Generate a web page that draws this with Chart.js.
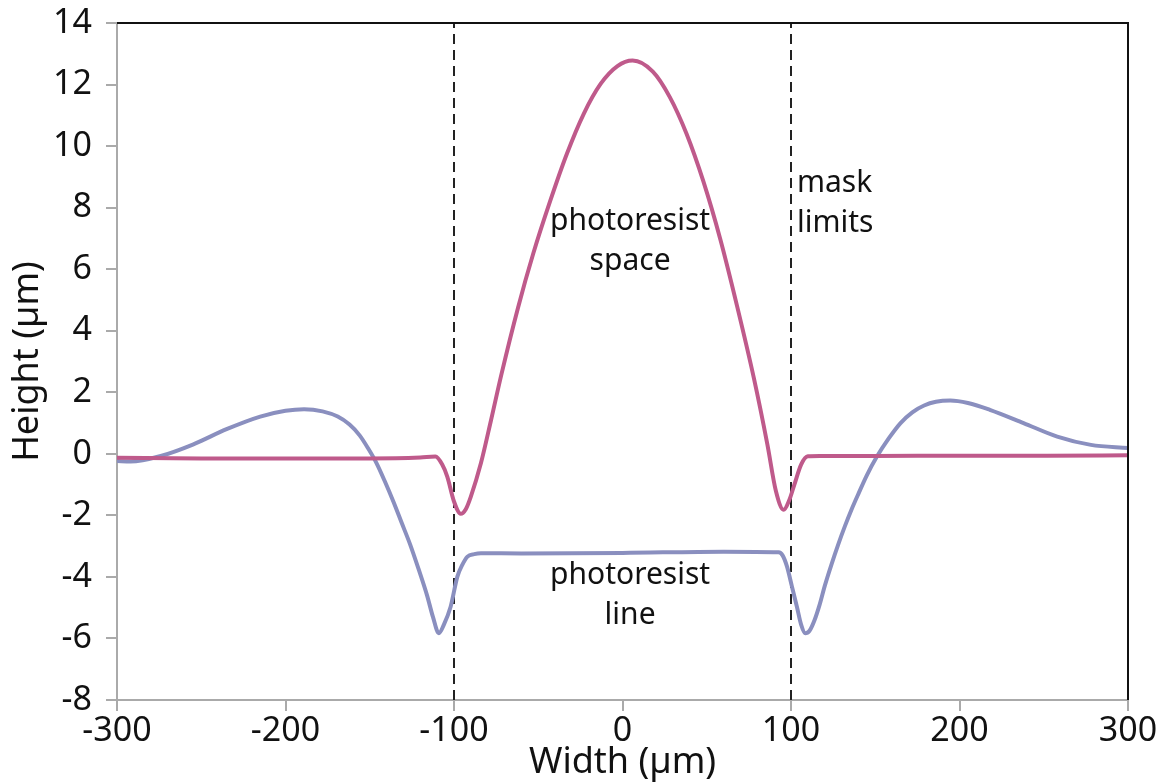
<!DOCTYPE html>
<html>
<head>
<meta charset="utf-8">
<script src="https://cdn.jsdelivr.net/npm/chart.js@4"></script>
<style>
  html, body { margin: 0; padding: 0; background: #fff; }
  #wrap { width: 1170px; height: 784px; }
</style>
</head>
<body>
<div id="wrap"><canvas id="profile"></canvas></div>
<script>
// Profil "photoresist space" (rose)
const spaceX = [-300, -250, -200, -150, -120, -111, -107, -104, -100, -96, -93, -90, -84, -78, -72, -62, -53, -43, -33, -23, -13, -3, 6, 18, 28, 38, 48, 58, 68, 78, 86, 91, 95.6, 99, 102, 106, 110, 117, 150, 200, 250, 300];
const spaceY = [-0.13, -0.15, -0.15, -0.15, -0.12, -0.09, -0.35, -0.74, -1.55, -1.95, -1.8, -1.39, -0.3, 1.1, 2.55, 4.75, 6.5, 8.2, 9.75, 11.05, 12.02, 12.6, 12.78, 12.42, 11.6, 10.4, 8.85, 6.98, 4.8, 2.45, 0.3, -1.2, -1.82, -1.5, -1.0, -0.35, -0.08, -0.07, -0.07, -0.06, -0.06, -0.05];

// Profil "photoresist line" (bleu)
const lineX = [-300, -292, -274, -255, -235, -215, -200, -189, -178, -169, -162, -156, -151, -146, -141, -136, -131, -126, -121, -116, -112.5, -109, -106, -102, -98, -95, -92, -88, -84, -60, 0, 60, 92.6, 95, 97.6, 100.5, 103.5, 106, 108.5, 111, 114, 117, 120, 124, 128, 132, 136, 140, 145, 151, 158, 165, 172, 179, 186, 194.5, 205, 218, 238, 258, 278, 300];
const lineY = [-0.23, -0.25, -0.07, 0.3, 0.8, 1.21, 1.4, 1.45, 1.38, 1.21, 0.95, 0.6, 0.18, -0.3, -0.9, -1.55, -2.25, -2.95, -3.75, -4.6, -5.3, -5.83, -5.55, -4.97, -3.99, -3.6, -3.34, -3.26, -3.23, -3.24, -3.22, -3.18, -3.2, -3.3, -3.66, -4.3, -4.97, -5.55, -5.83, -5.75, -5.4, -4.9, -4.3, -3.6, -2.95, -2.35, -1.8, -1.3, -0.7, -0.09, 0.5, 1.0, 1.35, 1.57, 1.69, 1.73, 1.65, 1.43, 1.0, 0.56, 0.29, 0.19];

// Limites du masque
const maskLimits = [-100, 100];

const xTicks = [-300, -200, -100, 0, 100, 200, 300];
const yTicks = [-8, -6, -4, -2, 0, 2, 4, 6, 8, 10, 12, 14];

// Textes dans le graphique (coordonnées en unités des axes)
const notes = [
  { text: ['photoresist', 'space'], x: 4.5, y: 7.55, align: 'center' },
  { text: ['photoresist', 'line'], x: 4.5, y: -3.95, align: 'center' },
  { text: ['mask', 'limits'], x: 103.5, y: 8.8, align: 'left' }
];

const toPoints = (xs, ys) => xs.map((x, i) => ({ x, y: ys[i] }));

const maskSets = maskLimits.map(m => ({
  data: [{ x: m, y: yTicks[0] }, { x: m, y: yTicks[yTicks.length - 1] }],
  borderColor: '#222',
  borderWidth: 2,
  borderDash: [10, 6],
  pointRadius: 0,
  showLine: true
}));

const FONT = "'Noto Sans', 'Open Sans', sans-serif";

// cadre noir en haut et à droite, et textes
const framePlugin = {
  id: 'frame',
  afterDatasetsDraw(chart) {
    const { ctx, chartArea: a, scales } = chart;
    ctx.save();
    ctx.strokeStyle = '#111';
    ctx.lineWidth = 2;
    ctx.beginPath();
    ctx.moveTo(a.left, a.top);
    ctx.lineTo(a.right, a.top);
    ctx.lineTo(a.right, a.bottom);
    ctx.stroke();

    ctx.fillStyle = '#111';
    ctx.font = '30px ' + FONT;
    ctx.textBaseline = 'middle';
    notes.forEach(n => {
      ctx.textAlign = n.align;
      const px = scales.x.getPixelForValue(n.x);
      const py = scales.y.getPixelForValue(n.y);
      n.text.forEach((t, i) => ctx.fillText(t, px, py + i * 40));
    });
    ctx.restore();
  }
};

new Chart(document.getElementById('profile'), {
  type: 'scatter',
  data: {
    datasets: [
      {
        data: toPoints(spaceX, spaceY),
        borderColor: '#BF5A8B',
        borderWidth: 4,
        pointRadius: 0,
        showLine: true,
        cubicInterpolationMode: 'monotone'
      },
      {
        data: toPoints(lineX, lineY),
        borderColor: '#8A8FBF',
        borderWidth: 4,
        pointRadius: 0,
        showLine: true,
        cubicInterpolationMode: 'monotone'
      },
      ...maskSets
    ]
  },
  options: {
    responsive: true,
    maintainAspectRatio: false,
    animation: false,
    layout: { padding: { top: 23, right: 42, left: 0, bottom: 0 } },
    plugins: {
      legend: { display: false },
      tooltip: { enabled: false }
    },
    scales: {
      x: {
        type: 'linear',
        min: -300,
        max: 300,
        afterBuildTicks: s => { s.ticks = xTicks.map(v => ({ value: v })); },
        afterFit: s => { s.height = 84; s.paddingLeft = 0; s.paddingRight = 0; },
        grid: { drawOnChartArea: false, color: '#aaa', tickLength: 11, lineWidth: 2 },
        border: { color: '#aaa', width: 2 },
        ticks: { color: '#111', font: { family: FONT, size: 34 }, padding: 0, maxRotation: 0 },
        title: { display: true, text: 'Width (µm)', color: '#111', font: { family: FONT, size: 36 }, padding: { top: -10, bottom: 0 } }
      },
      y: {
        type: 'linear',
        min: -8,
        max: 14,
        afterBuildTicks: s => { s.ticks = yTicks.map(v => ({ value: v })); },
        afterFit: s => { s.width = 117; s.paddingTop = 0; s.paddingBottom = 0; },
        grid: { drawOnChartArea: false, color: '#aaa', tickLength: 11, lineWidth: 2 },
        border: { color: '#aaa', width: 2 },
        ticks: { color: '#111', font: { family: FONT, size: 34 }, padding: 14 },
        title: { display: true, text: 'Height (µm)', color: '#111', font: { family: FONT, size: 36 }, padding: { top: 6, bottom: 0 } }
      }
    }
  },
  plugins: [framePlugin]
});
</script>
</body>
</html>
